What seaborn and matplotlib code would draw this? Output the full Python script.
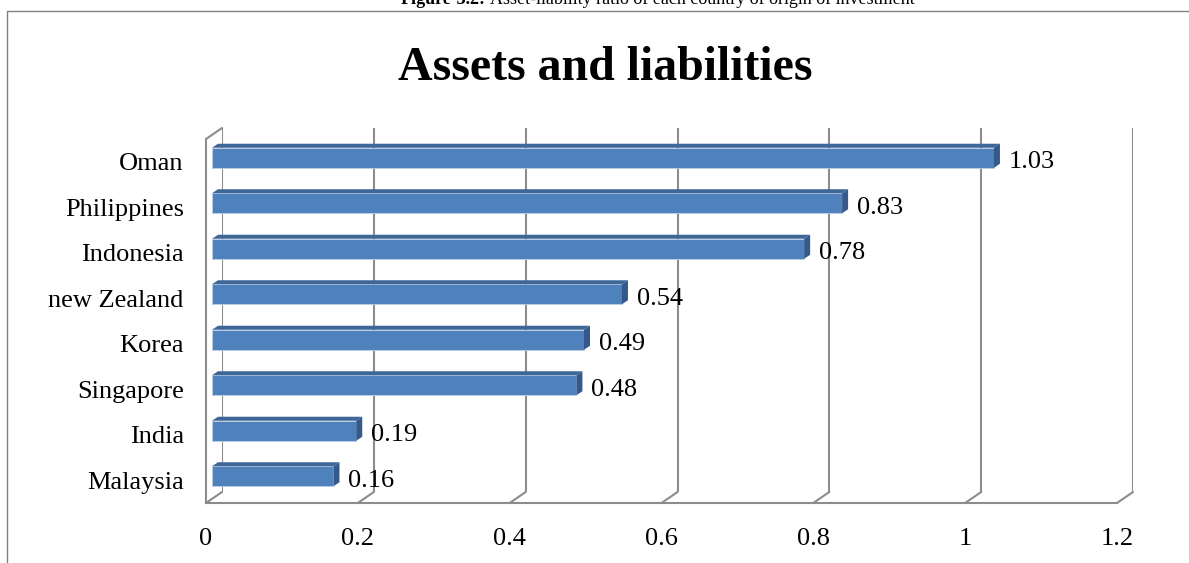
import numpy as np
import pandas as pd
import matplotlib
matplotlib.use("Agg")
import matplotlib.pyplot as plt
import seaborn as sns
from matplotlib.lines import Line2D
from matplotlib.patches import Polygon

# ---- data ----
countries = ["Oman", "Philippines", "Indonesia", "new Zealand", "Korea", "Singapore", "India", "Malaysia"]
ratios = [1.03, 0.83, 0.78, 0.54, 0.49, 0.48, 0.19, 0.16]
xticks = [0, 0.2, 0.4, 0.6, 0.8, 1.0, 1.2]
xticklabels = ["0", "0.2", "0.4", "0.6", "0.8", "1", "1.2"]
title = "Assets and liabilities"
caption_bold = "Figure-3.2:"
caption_rest = "Asset-liability ratio of each country of origin of investment"

sns.set_theme(style="white")
plt.rcParams["font.family"] = ["Liberation Serif", "DejaVu Serif"]
plt.rcParams["text.color"] = "black"
plt.rcParams["xtick.color"] = "black"
plt.rcParams["ytick.color"] = "black"

W, H = 1189, 563
fig = plt.figure(figsize=(W / 100, H / 100), dpi=100)
fig.patch.set_facecolor("white")


def rect(l, t, r, b):
    return [l / W, 1 - b / H, (r - l) / W, (b - t) / H]


front = (206, 139, 1117, 503)
DX, DY = 16, 11      # depth of the back wall (px)
BX, BY = 6, 4        # offset of the bar front face (px)
BDX, BDY = 6, 4      # depth of each bar (px)
GRID = "#8C8C8C"
XLIM = (0, 1.2)
YLIM = (len(countries) - 0.5, -0.5)

ax_back = fig.add_axes(rect(front[0] + DX, front[1] - DY, front[2] + DX, front[3] - DY))
ax = fig.add_axes(rect(*front))
ax_bar = fig.add_axes(rect(front[0] + BX, front[1] - BY, front[2] + BX, front[3] - BY))

for a in (ax_back, ax, ax_bar):
    a.set_xlim(*XLIM)
    a.set_ylim(*YLIM)
    a.patch.set_alpha(0)

# back wall grid lines
ax_back.axis("off")
for t in xticks:
    ax_back.axvline(t, color=GRID, lw=1.5, zorder=1)

inv = fig.transFigure.inverted()


def to_fig(a, pt):
    return inv.transform(a.transData.transform(pt))


# floor diagonals
for t in xticks:
    p1 = to_fig(ax_back, (t, YLIM[0]))
    p2 = to_fig(ax, (t, YLIM[0]))
    fig.add_artist(Line2D([p1[0], p2[0]], [p1[1], p2[1]], transform=fig.transFigure,
                          color=GRID, lw=1.5, zorder=1))
# left wall top diagonal
p1 = to_fig(ax_back, (0, YLIM[1]))
p2 = to_fig(ax, (0, YLIM[1]))
fig.add_artist(Line2D([p1[0], p2[0]], [p1[1], p2[1]], transform=fig.transFigure,
                      color=GRID, lw=1.5, zorder=1))

# front plane axes (left wall + floor)
for s in ("top", "right"):
    ax.spines[s].set_visible(False)
for s in ("left", "bottom"):
    ax.spines[s].set_color(GRID)
    ax.spines[s].set_linewidth(1.5)
ax.set_xticks(xticks)
ax.set_xticklabels(xticklabels, fontsize=19)
ax.tick_params(axis="x", direction="out", length=5.8, width=1.5, color=GRID, pad=12, labelcolor="black")
ax.set_yticks(range(len(countries)))
ax.set_yticklabels(countries, fontsize=19)
ax.tick_params(axis="y", which="major", length=0, pad=16, labelcolor="black")
ax.set_yticks(np.arange(len(countries) + 1) - 0.5, minor=True)
ax.tick_params(axis="y", which="minor", direction="out", length=4.3, width=1.5, color=GRID)
ax.grid(False)

# bars
df = pd.DataFrame({"country": countries, "ratio": ratios})
sns.barplot(data=df, x="ratio", y="country", orient="h", ax=ax_bar, color="#4F81BD",
            saturation=1, width=0.44, edgecolor="#BFD0E8", linewidth=0.6)
ax_bar.set_xlim(*XLIM)
ax_bar.set_ylim(*YLIM)
ax_bar.axis("off")

# 3D faces for bars
for p in ax_bar.patches:
    x0, y0, w, h = p.get_x(), p.get_y(), p.get_width(), p.get_height()
    yt = min(y0, y0 + h)
    yb = max(y0, y0 + h)
    tl = ax_bar.transData.transform((x0, yt))
    tr = ax_bar.transData.transform((x0 + w, yt))
    br = ax_bar.transData.transform((x0 + w, yb))
    d = np.array([BDX, BDY])
    top = [tl, tr, tr + d, tl + d]
    side = [tr, br, br + d, tr + d]
    fig.add_artist(Polygon(inv.transform(np.array(top)), closed=True, transform=fig.transFigure,
                           facecolor="#3E6798", edgecolor="none", zorder=5))
    fig.add_artist(Polygon(inv.transform(np.array(side)), closed=True, transform=fig.transFigure,
                           facecolor="#34598A", edgecolor="none", zorder=5))

for i, v in enumerate(ratios):
    ax_bar.annotate(f"{v:.2f}", xy=(v, i), xytext=(15 * 0.72, -4.5 * 0.72), textcoords="offset points",
                    ha="left", va="center", fontsize=19, color="black")

# chart border
BORD = "#808080"
fig.add_artist(Line2D([7 / W, 7 / W], [0, 1 - 11 / H], transform=fig.transFigure, color=BORD, lw=1))
fig.add_artist(Line2D([7 / W, 1], [1 - 11 / H, 1 - 11 / H], transform=fig.transFigure, color=BORD, lw=1))

# title & caption
fig.text(605 / W, 1 - 80 / H, title, ha="center", va="baseline", fontsize=34.5, fontweight="bold", color="black")
fig.text(486 / W, 1 - 4 / H, caption_bold, ha="right", va="baseline", fontsize=13, fontweight="bold", color="black")
fig.text(490 / W, 1 - 4 / H, caption_rest, ha="left", va="baseline", fontsize=13, color="black")

fig.savefig("out.png", dpi=100)
